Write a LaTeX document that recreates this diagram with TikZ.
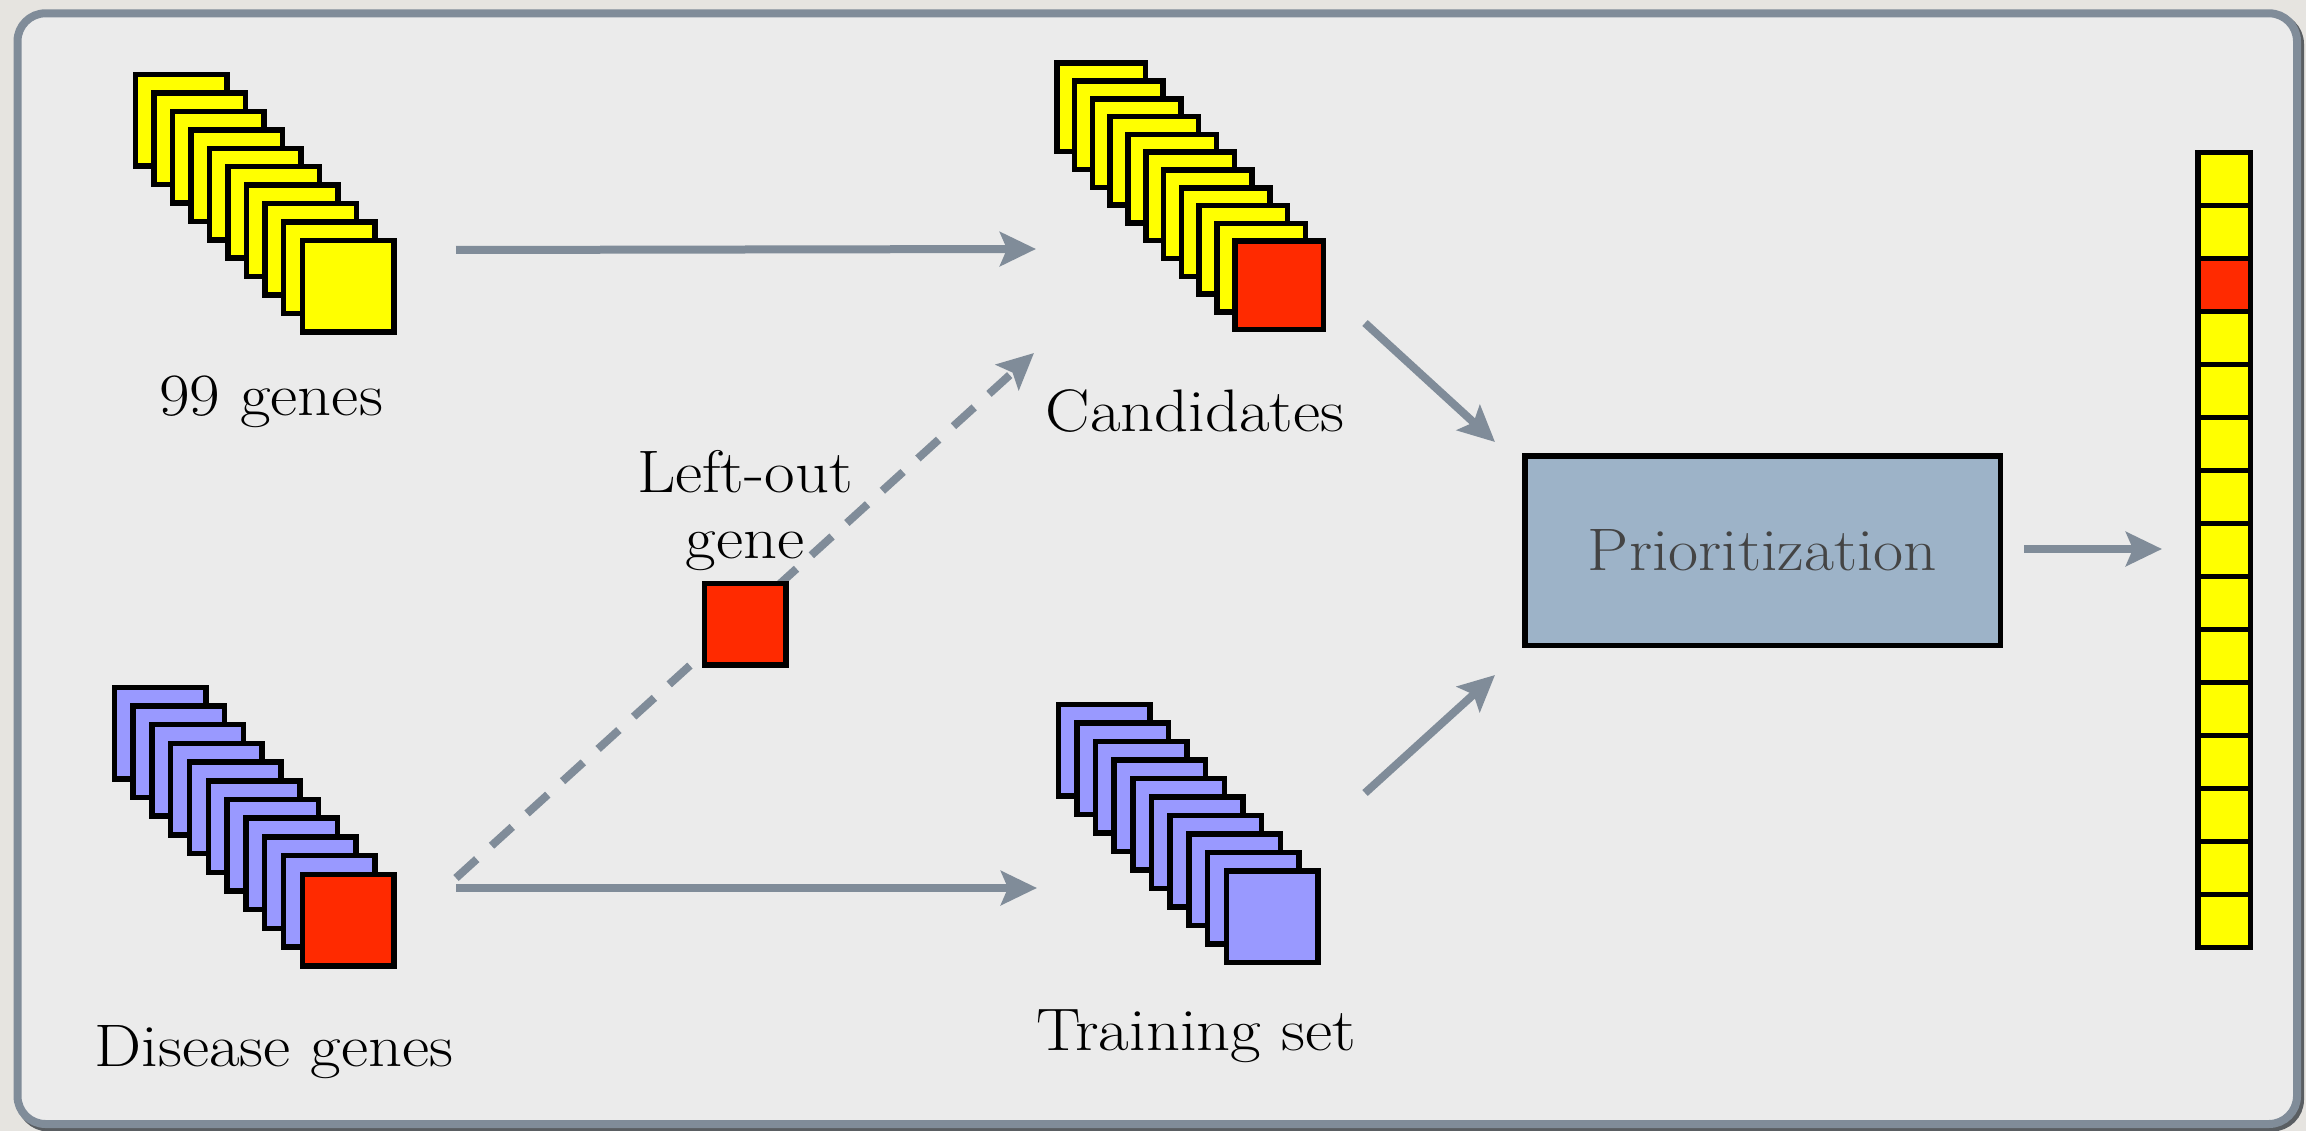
\documentclass[tikz,border=0pt]{standalone}
\usepackage{graphicx}
\usetikzlibrary{arrows.meta}
\definecolor{outbg}{HTML}{E6E4E0}
\definecolor{panel}{HTML}{EBEBEB}
\definecolor{framecol}{HTML}{808C99}
\definecolor{shadowcol}{HTML}{5A5E62}
\definecolor{arrowcol}{HTML}{808C99}
\definecolor{ylw}{HTML}{FFFF00}
\definecolor{rd}{HTML}{FF2A00}
\definecolor{lav}{HTML}{9999FF}
\definecolor{boxfill}{HTML}{9DB3C8}
\definecolor{boxtext}{HTML}{444444}
% slightly widened lettering
\newcommand\widetext[1]{\scalebox{1.11}[1]{#1}}
\begin{document}
\begin{tikzpicture}[x=1pt,y=-1pt,
  sq/.style={draw=black, line width=5.5pt, minimum size=91.5pt, inner sep=0pt, outer sep=0pt},
  cell/.style={draw=black, line width=5.5pt, minimum width=52.5pt, minimum height=52.97pt, inner sep=0pt, outer sep=0pt, fill=ylw},
  lbl/.style={font=\fontsize{60pt}{66pt}\selectfont, inner sep=0pt, anchor=base},
  arr/.style={draw=arrowcol, line width=8pt, -{Stealth[length=36pt, width=34pt, inset=7pt]}},
  dasharr/.style={arr, dash pattern=on 28pt off 20pt}
]
\useasboundingbox (0,0) rectangle (2306,1131);
% page and framed panel
\fill[outbg] (0,0) rectangle (2306,1131);
\draw[line width=8pt, shadowcol, rounded corners=28pt] (20.5,16.3) rectangle (2300,1127.5);
\draw[line width=8pt, framecol, fill=panel, rounded corners=28pt] (17.5,13.3) rectangle (2297,1124);

% stack of 99 genes
\foreach \i in {0,...,8}
  \node[sq, fill=ylw] (ga\i) at ({181+18.55*\i},{120.5+18.4*\i}) {};
\node[sq, fill=ylw] (gafront) at (348,286.5) {};
\node[lbl] (galbl) at (271,415) {\widetext{99 genes}};

% stack of candidates
\foreach \i in {0,...,9}
  \node[sq, fill=ylw, minimum size=88.5pt] (ca\i) at ({1101+17.8*\i},{107.5+17.8*\i}) {};
\node[sq, fill=rd, minimum size=88.5pt] (cafront) at (1279,285.5) {};
\node[lbl] (calbl) at (1195,431) {\widetext{Candidates}};

% stack of disease genes
\foreach \i in {0,...,9}
  \node[sq, fill=lav] (da\i) at ({160+18.8*\i},{733+18.7*\i}) {};
\node[sq, fill=rd] (dafront) at (348,920) {};
\node[lbl] (dalbl) at (274,1066) {\widetext{Disease genes}};

% stack of the training set
\foreach \i in {0,...,8}
  \node[sq, fill=lav] (ta\i) at ({1104+18.65*\i},{750+18.5*\i}) {};
\node[sq, fill=lav] (tafront) at (1272,916.5) {};
\node[lbl] (talbl) at (1196,1050) {\widetext{Training set}};

% arrow end points
\coordinate (p1s) at (456,250);
\coordinate (p1e) at (1036,249);
\coordinate (p2s) at (456,888);
\coordinate (p2e) at (1037,888);
\coordinate (p3s) at (456,878);
\coordinate (p3e) at (1034,353);
\coordinate (p4s) at (1365,323);
\coordinate (p4e) at (1495,442);
\coordinate (p5s) at (1365,793);
\coordinate (p5e) at (1495,675);
\coordinate (p6s) at (2024,549);
\coordinate (p6e) at (2162,549);

\draw[arr] (p1s) -- (p1e);
\draw[arr] (p2s) -- (p2e);
\draw[dasharr] (p3s) -- (p3e);
\draw[arr] (p4s) -- (p4e);
\draw[arr] (p5s) -- (p5e);
\draw[arr] (p6s) -- (p6e);

% the left-out gene
\node[sq, fill=rd, minimum size=81.5pt] (left) at (745,624) {};
\node[lbl, align=center] (leftlbl) at (745,558) {\widetext{Left-out}\\\widetext{gene}};

% prioritization step
\node[draw=black, line width=5.5pt, fill=boxfill, minimum width=475.5pt, minimum height=189.5pt,
      inner sep=0pt, text=boxtext, font=\fontsize{60pt}{66pt}\selectfont] (prio) at (1762.5,550.5) {\scalebox{1.09}[1]{Prioritization}};

% ranked list
\foreach \i in {1,...,15}
  \node[cell] (r\i) at (2224,{152.75+52.97*(\i-0.5)}) {};
\node[cell, fill=rd] (r3) at (2224,{152.75+52.97*2.5}) {};
\end{tikzpicture}
\end{document}
